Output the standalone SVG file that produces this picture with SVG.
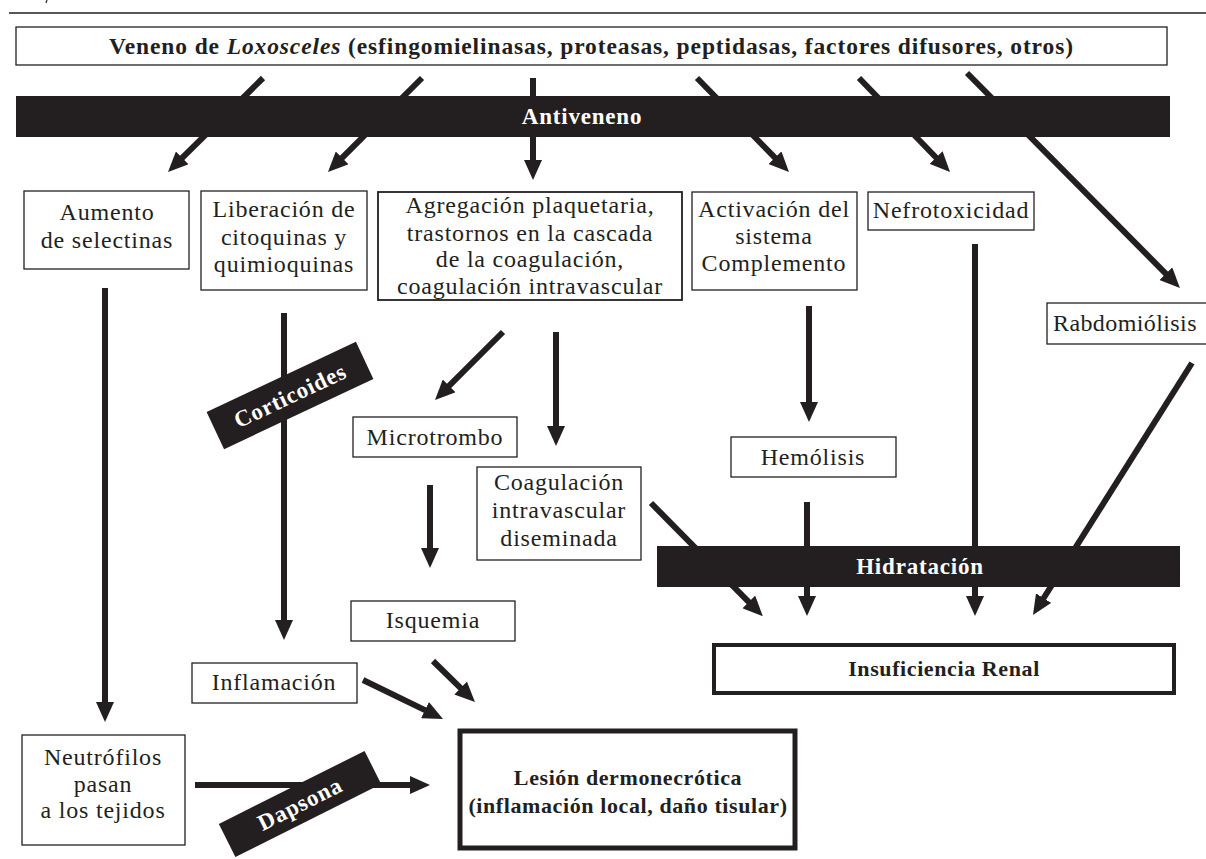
<svg xmlns="http://www.w3.org/2000/svg" width="1206" height="859" viewBox="0 0 1206 859">
<defs>
<style>
.bx{fill:#fff;stroke:#231f20;stroke-width:1.3}
.bxt{fill:#fff;stroke:#231f20;stroke-width:4}
.bar{fill:#231f20}
.t{font-family:"Liberation Serif","Times New Roman",serif;font-size:24px;fill:#231f20;text-anchor:middle;letter-spacing:0.8px}
.tb{font-family:"Liberation Serif","Times New Roman",serif;font-size:22px;font-weight:bold;fill:#231f20;text-anchor:middle;letter-spacing:0.6px}
.tw{font-family:"Liberation Serif","Times New Roman",serif;font-size:23px;font-weight:bold;fill:#fff;text-anchor:middle;letter-spacing:0.8px}
.c{fill:none;stroke:#231f20;stroke-width:6;marker-end:url(#ah)}
</style>
<marker id="ah" viewBox="0 0 20 18" refX="4" refY="9" markerWidth="20" markerHeight="18" markerUnits="userSpaceOnUse" orient="auto">
<path d="M0,0 L20,9 L0,18 z" fill="#231f20"/>
</marker>
</defs>
<rect width="1206" height="859" fill="#fff"/>
<line x1="9" y1="13" x2="1206" y2="13" stroke="#231f20" stroke-width="1.5"/>
<line x1="47" y1="0" x2="46" y2="3" stroke="#231f20" stroke-width="1.2"/>

<g id="veneno">
<rect class="bx" x="16" y="27" width="1151" height="38"/>
<text class="tb" x="591" y="54" style="font-size:23.5px;letter-spacing:0" textLength="964">Veneno de <tspan font-style="italic">Loxosceles</tspan> (esfingomielinasas, proteasas, peptidasas, factores difusores, otros)</text>
</g>

<g id="connectors">
<path class="c" d="M263,78 L179.4,160.7"/>
<path class="c" d="M422,78 L339.3,160.7"/>
<path class="c" d="M533,78 L533,164"/>
<path class="c" d="M697,78 L777.8,160.6"/>
<path class="c" d="M859,78 L938.9,160.5"/>
<path class="c" d="M967,73 L1168.7,276.6"/>
<path class="c" d="M105,288 L105,706"/>
<path class="c" d="M284,313 L284,624"/>
<path class="c" d="M503,332 L446.3,388.7"/>
<path class="c" d="M556,332 L556,430"/>
<path class="c" d="M430,485 L430,552"/>
<path class="c" d="M809,306 L809,406"/>
<path class="c" d="M807,502 L807,600"/>
<path class="c" d="M975,244 L975,600"/>
<path class="c" d="M1192,363 L1041.5,601.5"/>
<path class="c" d="M651,503 L751.6,604.8"/>
<path class="c" d="M433,661 L463.5,690.8"/>
<path class="c" d="M363,680 L428.6,711.9"/>
<path class="c" d="M195,785 L414,785"/>
</g>

<g id="antiveneno">
<rect class="bar" x="16" y="96" width="1154" height="41"/>
<text class="tw" x="582" y="124">Antiveneno</text>
</g>

<g id="aumento">
<rect class="bx" x="24" y="191" width="165" height="78"/>
<text class="t" x="107" y="220">Aumento</text>
<text class="t" x="107" y="248">de selectinas</text>
</g>

<g id="liberacion">
<rect class="bx" x="201" y="191" width="166" height="99"/>
<text class="t" x="284" y="217">Liberación de</text>
<text class="t" x="284" y="245">citoquinas y</text>
<text class="t" x="284" y="272">quimioquinas</text>
</g>

<g id="agregacion">
<rect class="bx" x="378" y="192" width="304" height="108" style="stroke-width:1.8"/>
<text class="t" x="530" y="213">Agregación plaquetaria,</text>
<text class="t" x="530" y="241">trastornos en la cascada</text>
<text class="t" x="530" y="267">de la coagulación,</text>
<text class="t" x="530" y="294">coagulación intravascular</text>
</g>

<g id="activacion">
<rect class="bx" x="692" y="192" width="165" height="98"/>
<text class="t" x="774" y="217">Activación del</text>
<text class="t" x="774" y="244">sistema</text>
<text class="t" x="774" y="271">Complemento</text>
</g>

<g id="nefrotoxicidad">
<rect class="bx" x="868" y="192" width="166" height="38"/>
<text class="t" x="951" y="218">Nefrotoxicidad</text>
</g>

<g id="rabdomiolisis">
<rect class="bx" x="1047" y="303" width="165" height="41"/>
<text class="t" x="1053" y="331" style="text-anchor:start;letter-spacing:0.4px">Rabdomiólisis</text>
</g>

<g id="corticoides">
<g transform="translate(290,395.5) rotate(-25.2)">
<rect class="bar" x="-82.5" y="-20.5" width="165" height="41"/>
<text class="tw" x="0" y="8">Corticoides</text>
</g>
</g>

<g id="microtrombo">
<rect class="bx" x="353" y="417" width="164" height="40"/>
<text class="t" x="435" y="445">Microtrombo</text>
</g>

<g id="cid">
<rect class="bx" x="477" y="467" width="164" height="93"/>
<text class="t" x="559" y="490">Coagulación</text>
<text class="t" x="559" y="518">intravascular</text>
<text class="t" x="559" y="546">diseminada</text>
</g>

<g id="hemolisis">
<rect class="bx" x="731" y="437" width="165" height="40"/>
<text class="t" x="813" y="465">Hemólisis</text>
</g>

<g id="hidratacion">
<rect class="bar" x="657" y="546" width="523" height="41"/>
<text class="tw" x="920" y="574">Hidratación</text>
</g>

<g id="insuficiencia">
<rect class="bxt" x="714" y="645" width="460" height="48"/>
<text class="tb" x="944" y="676">Insuficiencia Renal</text>
</g>

<g id="isquemia">
<rect class="bx" x="351" y="601" width="164" height="40"/>
<text class="t" x="433" y="628">Isquemia</text>
</g>

<g id="inflamacion">
<rect class="bx" x="192" y="663" width="165" height="40"/>
<text class="t" x="274" y="690">Inflamación</text>
</g>

<g id="neutrofilos">
<rect class="bx" x="22" y="735" width="163" height="110"/>
<text class="t" x="103" y="765">Neutrófilos</text>
<text class="t" x="103" y="792">pasan</text>
<text class="t" x="103" y="818">a los tejidos</text>
</g>

<g id="dapsona">
<g transform="translate(300,804) rotate(-26.6)">
<rect class="bar" x="-81.5" y="-18.5" width="163" height="37"/>
<text class="tw" x="0" y="7.5">Dapsona</text>
</g>
</g>

<g id="lesion">
<rect x="460" y="731" width="335" height="117" fill="#fff" stroke="#231f20" stroke-width="5"/>
<text class="tb" x="628" y="785">Lesión dermonecrótica</text>
<text class="tb" x="628" y="813">(inflamación local, daño tisular)</text>
</g>
</svg>
